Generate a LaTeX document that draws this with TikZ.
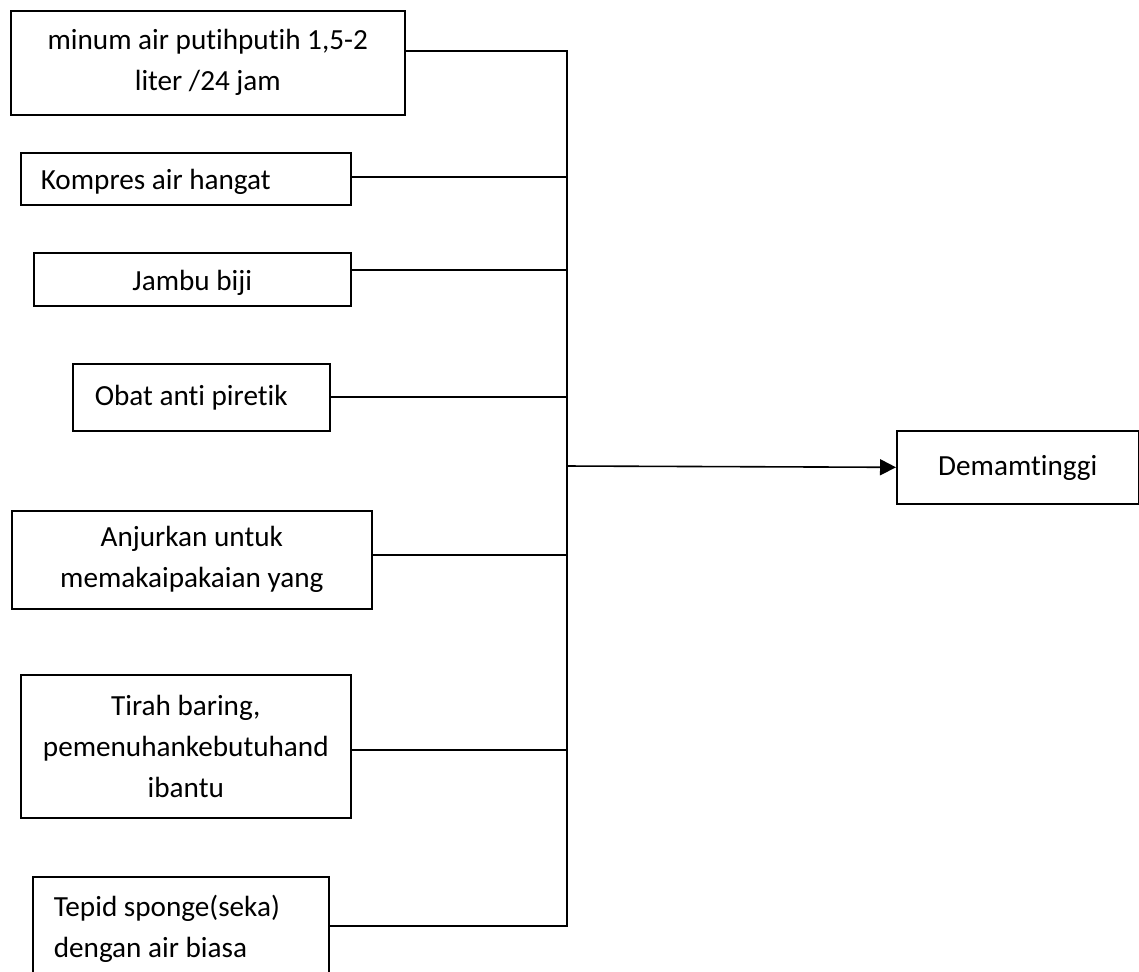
\documentclass[tikz,border=0pt]{standalone}
\usepackage{fontspec}
\setmainfont{Carlito}[Ligatures=NoCommon]
\usetikzlibrary{arrows.meta}

\begin{document}
\begin{tikzpicture}[x=0.5pt, y=-0.5pt, font=\fontsize{14.6}{20.5}\selectfont,
  box/.style={draw, line width=0.8pt, anchor=north west, inner ysep=0pt},
  cbox/.style={box, inner xsep=0pt, align=center},
  lbox/.style={box, align=flush left},
  wire/.style={line width=0.8pt}]
\useasboundingbox (0,0) rectangle (1139,971);
% ---------- Panel: tindakan (left column) ----------
\node[cbox, minimum width=197pt, minimum height=52pt] (minum) at (10,10) {minum air putihputih 1,5-2\\liter /24 jam};
\node[lbox, inner xsep=10pt, text width=145pt, minimum height=26pt, text height=11pt, text depth=0pt] (kompres) at (20,152) {Kompres air hangat};
\node[cbox, minimum width=158.5pt, minimum height=26.5pt, text height=11.5pt, text depth=0pt] (jambu) at (33,252) {Jambu biji};
\node[lbox, inner xsep=11pt, text width=106.5pt, minimum height=33.5pt] (obat) at (72,363) {Obat anti piretik};
\node[cbox, minimum width=180pt, minimum height=49pt] (anjur) at (11,510) {Anjurkan untuk\\memakaipakaian yang};
\node[cbox, minimum width=165pt, minimum height=71.5pt] (tirah) at (20,674) {Tirah baring,\\pemenuhankebutuhand\\ibantu};
\node[lbox, inner xsep=10.5pt, text width=127pt, minimum height=52pt] (tepid) at (32,876) {Tepid sponge(seka)\\dengan air biasa};
% ---------- Panel: masalah (right) ----------
\node[cbox, minimum width=121pt, minimum height=36.5pt, text height=11pt, text depth=3pt] (demam) at (896,430) {Demamtinggi};
% bus joints
\coordinate (j1) at (567,51);
\coordinate (j2) at (567,177);
\coordinate (j3) at (567,270);
\coordinate (j4) at (567,397);
\coordinate (jd) at (567,466);
\coordinate (j5) at (567,555);
\coordinate (j6) at (567,750);
\coordinate (j7) at (567,926);
\draw[wire] (minum.east |- j1) -- (j1) -- (j7) -- (tepid.east |- j7);
\draw[wire] (kompres.east |- j2) -- (j2);
\draw[wire] (jambu.east |- j3) -- (j3);
\draw[wire] (obat.east |- j4) -- (j4);
\draw[wire] (anjur.east |- j5) -- (j5);
\draw[wire] (tirah.east |- j6) -- (j6);
% arrow to the problem
\draw[wire, -{Triangle[length=8pt, width=8pt]}] (jd) -- (demam.west);
\end{tikzpicture}
\end{document}
